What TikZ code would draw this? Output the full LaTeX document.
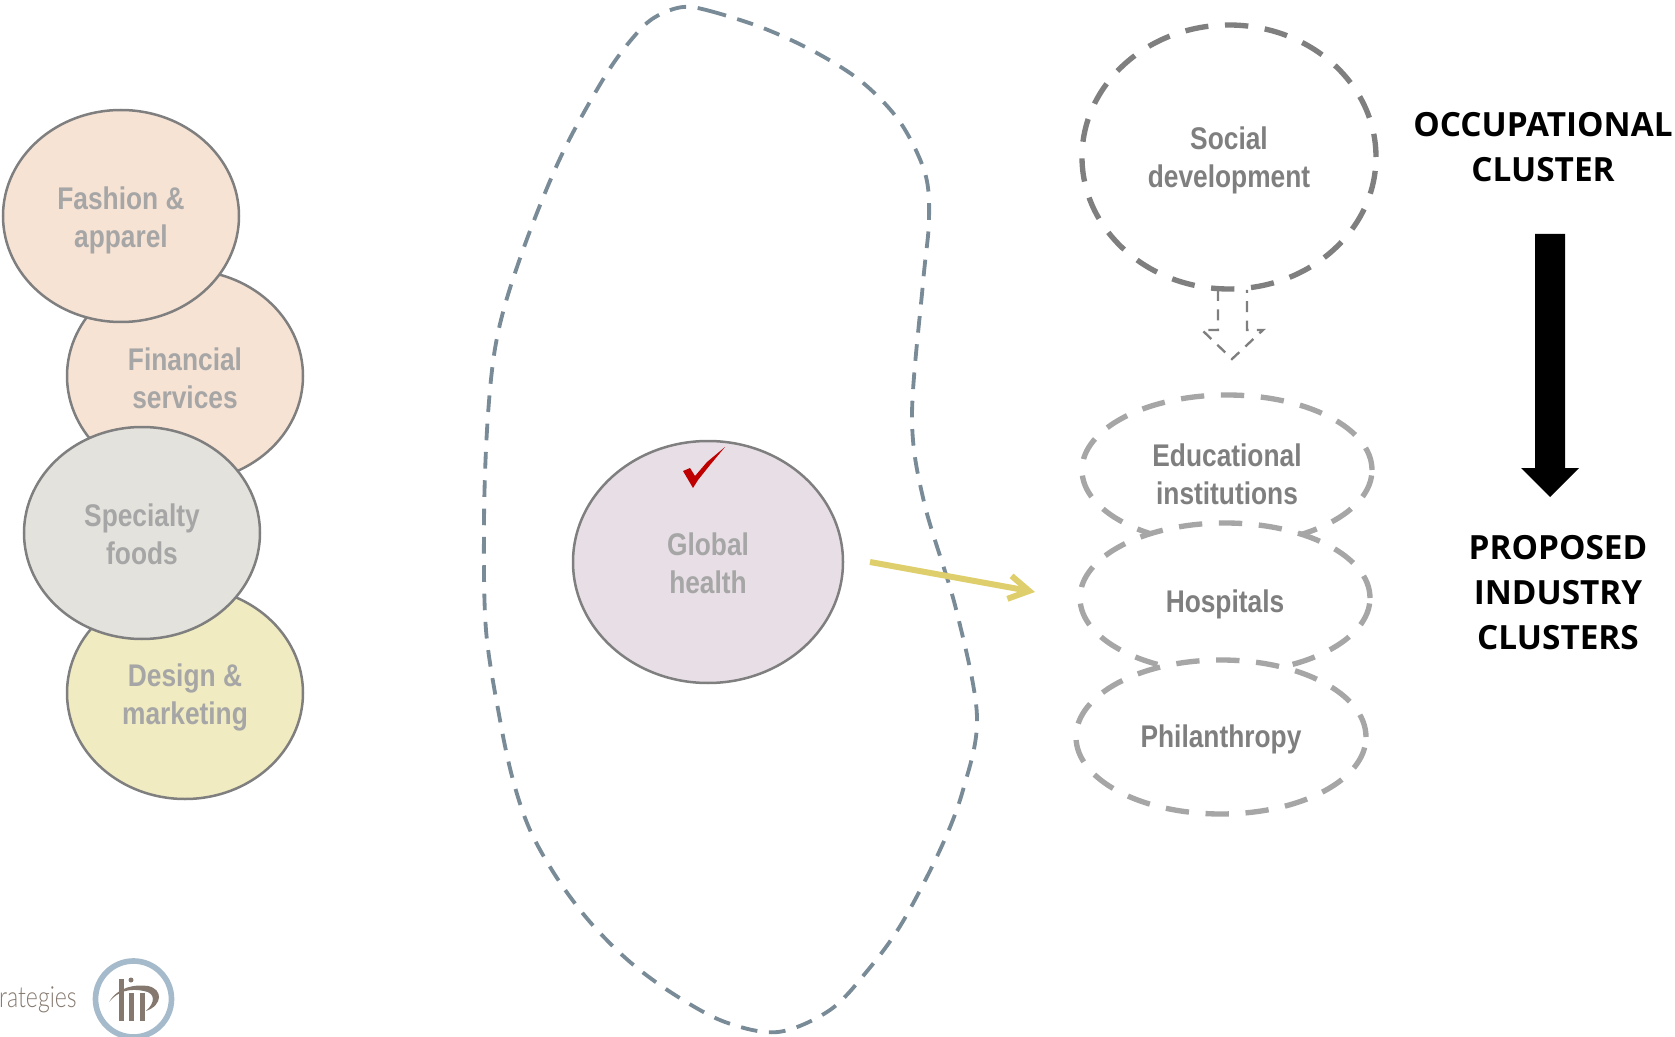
\documentclass[tikz,border=0pt]{standalone}
\usepackage{fontspec}
\setmainfont{Liberation Sans}
\newfontfamily\narrowfont[FakeStretch=0.84]{Liberation Sans}
\newfontfamily\headfont{Open Sans}
\newfontfamily\logofont[FakeStretch=0.79]{Lato Light}
\usetikzlibrary{arrows.meta,shapes.geometric}
\definecolor{peach}{HTML}{F7E3D4}
\definecolor{stone}{HTML}{E4E2DD}
\definecolor{straw}{HTML}{F0EBC0}
\definecolor{mauve}{HTML}{E8DFE6}
\definecolor{rimgray}{HTML}{7F7F7F}
\definecolor{labelgray}{HTML}{A6A6A6}
\definecolor{slate}{HTML}{7A8B98}
\definecolor{mustard}{HTML}{DFCF6C}
\definecolor{logoblue}{HTML}{A5BBCB}
\definecolor{logotaupe}{HTML}{85796F}
\newcommand{\pxu}{*0.6pt}
\tikzset{
  bubble/.style={ellipse,draw=rimgray,line width=1.5pt,minimum width=236\pxu,minimum height=212\pxu,inner sep=0pt,
    align=center,text=labelgray,font=\narrowfont\bfseries\fontsize{18.8}{23}\selectfont},
  dashcircle/.style={ellipse,draw=#1,line width=3.2pt,fill=white,dash pattern=on 14pt off 10pt,inner sep=0pt,
    align=center,font=\narrowfont\bfseries\fontsize{18.8}{23}\selectfont},
  headline/.style={align=center,font=\headfont\bfseries\fontsize{20}{27}\selectfont},
}
\begin{document}
\begin{tikzpicture}[x=0.6pt,y=-0.6pt,>=latex]

  \useasboundingbox (0,0) rectangle (1675,1037);

  % the four clusters on the left
  \node[bubble,fill=peach,text height=39pt] (financial) at (185,376) {Financial\\services};
  \node[bubble,fill=straw,text height=41.8pt] (design) at (185,693) {Design \&\\marketing};
  \node[bubble,fill=peach,text height=42pt] (fashion) at (121,216) {Fashion \&\\apparel};
  \node[bubble,fill=stone,text height=38.5pt] (specialty) at (142,533) {Specialty\\foods};

  % the big dashed outline
  \draw[slate,line width=2.3pt,dash pattern=on 10pt off 7pt] plot[smooth cycle,tension=0.55] coordinates {
    (683,7) (710,11) (763,28) (815,52) (862,82) (900,122) (925,173) (929,220) (923,283) (912,417)
    (924,502) (956,609) (977,716) (963,790) (940,850) (902,923) (868,970) (830,1010) (778,1032)
    (725,1022) (675,995) (630,962) (590,922) (557,878) (530,830) (513,780) (500,720) (486,630)
    (484,523) (487,430) (494,355) (507,298) (533,223) (565,148) (607,73) (637,33) (657,16)
  };

  % the cluster in the middle
  \node[bubble,fill=mauve,minimum width=270\pxu,minimum height=242\pxu,text height=38.5pt] (global) at (708,562) {Global\\health};
  \fill[red!75!black] (683,471) -- (690,468) -- (695,476) -- (707,462) -- (725,447)
    -- (710,465) -- (698,480) -- (693,488) -- cycle;

  % the yellow arrow
  \coordinate (arrowstart) at (870,562);
  \coordinate (arrowend) at (1035,592);
  \draw[mustard,line width=3.6pt,-{Straight Barb[length=12pt,width=14pt,line width=3.6pt]}] (arrowstart) -- (arrowend);

  % the dashed clusters on the right
  \node[dashcircle=rimgray,minimum width=294\pxu,minimum height=264\pxu,text=rimgray,text height=40.8pt] (social) at (1229,157) {Social\\development};
  \node[dashcircle=labelgray,minimum width=290\pxu,minimum height=150\pxu,text=rimgray,text height=41.8pt] (educational) at (1227,470) {Educational\\institutions};
  \node[dashcircle=labelgray,minimum width=290\pxu,minimum height=150\pxu,text=rimgray,text height=21pt] (hospitals) at (1225,598) {Hospitals};
  \node[dashcircle=labelgray,minimum width=290\pxu,minimum height=154\pxu,text=rimgray,text height=16pt] (philanthropy) at (1221,737) {Philanthropy};

  % hollow dashed arrow
  \draw[rimgray,line width=1.4pt,dash pattern=on 6.6pt off 5pt]
    (1218,290) -- (1218,330) -- (1202,330) -- (1232,359) -- (1263,330) -- (1247,330) -- (1247,290);

  % the labels on the right
  \node[headline] (occupational) at (1543,147) {OCCUPATIONAL\\CLUSTER};
  \node[headline] (proposed) at (1558,593) {PROPOSED\\INDUSTRY\\CLUSTERS};
  \fill (1535,234) -- (1565,234) -- (1565,468) -- (1579,468) -- (1550,497) -- (1521,468) -- (1535,468) -- cycle;

  % logo
  \node[anchor=east,inner sep=0pt,text=logotaupe,font=\logofont\fontsize{17.5}{20}\selectfont] (strategies) at (77,1000) {rategies};
  \draw[logoblue,line width=3.4pt] (133.5,999) circle (38);
  \fill[logotaupe] (119,979) rectangle (124,1021);
  \fill[logotaupe] (129,993) rectangle (134,1021);
  \fill[logotaupe] (140,993) rectangle (144.5,1021);
  \fill[logotaupe] (131,980) circle (2.5);
  \fill[logotaupe] (109,1002) .. controls (118,987) and (135,984) .. (148,986)
    .. controls (163,989) and (163,1005) .. (146,1011)
    .. controls (155,1003) and (156,993) .. (144,991)
    .. controls (130,988) and (118,991) .. cycle;

\end{tikzpicture}
\end{document}
